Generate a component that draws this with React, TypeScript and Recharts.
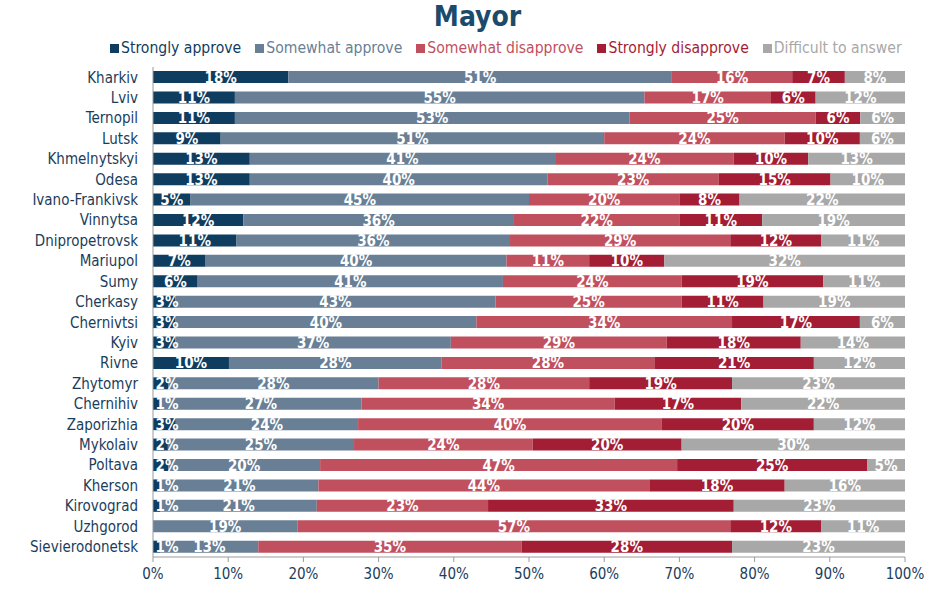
import { BarChart, Bar, XAxis, YAxis, LabelList } from 'recharts';

const FONT = '"DejaVu Sans Condensed", "DejaVu Sans", sans-serif';
const NAVY_TEXT = '#1b3d5c';

const cities = [
  'Kharkiv', 'Lviv', 'Ternopil', 'Lutsk', 'Khmelnytskyi', 'Odesa', 'Ivano-Frankivsk', 'Vinnytsa',
  'Dnipropetrovsk', 'Mariupol', 'Sumy', 'Cherkasy', 'Chernivtsi', 'Kyiv', 'Rivne', 'Zhytomyr',
  'Chernihiv', 'Zaporizhia', 'Mykolaiv', 'Poltava', 'Kherson', 'Kirovograd', 'Uzhgorod', 'Sievierodonetsk',
];

const stronglyApprove = [18, 11, 11, 9, 13, 13, 5, 12, 11, 7, 6, 3, 3, 3, 10, 2, 1, 3, 2, 2, 1, 1, 0, 1];
const somewhatApprove = [51, 55, 53, 51, 41, 40, 45, 36, 36, 40, 41, 43, 40, 37, 28, 28, 27, 24, 25, 20, 21, 21, 19, 13];
const somewhatDisapprove = [16, 17, 25, 24, 24, 23, 20, 22, 29, 11, 24, 25, 34, 29, 28, 28, 34, 40, 24, 47, 44, 23, 57, 35];
const stronglyDisapprove = [7, 6, 6, 10, 10, 15, 8, 11, 12, 10, 19, 11, 17, 18, 21, 19, 17, 20, 20, 25, 18, 33, 12, 28];
const difficult = [8, 12, 6, 6, 13, 10, 22, 19, 11, 32, 11, 19, 6, 14, 12, 23, 22, 12, 30, 5, 16, 23, 11, 23];

const xTicks = [0, 0.1, 0.2, 0.3, 0.4, 0.5, 0.6, 0.7, 0.8, 0.9, 1];

const series = [
  { key: 'sa', name: 'Strongly approve', color: '#0f3d5f' },
  { key: 'wa', name: 'Somewhat approve', color: '#687f96' },
  { key: 'wd', name: 'Somewhat disapprove', color: '#c1505f' },
  { key: 'sd', name: 'Strongly disapprove', color: '#a31d35' },
  { key: 'dk', name: 'Difficult to answer', color: '#a8a8a8' },
];

const data = cities.map((city, i) => ({
  city,
  sa: stronglyApprove[i],
  wa: somewhatApprove[i],
  wd: somewhatDisapprove[i],
  sd: stronglyDisapprove[i],
  dk: difficult[i],
}));

const SegmentLabel = (props: any) => {
  const { x, y, width, height, value } = props;
  if (!value) return null;
  // tiny segments: Excel pushes the label so it starts near the bar's left edge
  const cx = Math.max(x + width / 2, x + 14);
  return (
    <text
      x={cx}
      y={y + height / 2 + 1}
      fill="#ffffff"
      fontSize={15}
      fontWeight="bold"
      fontFamily={FONT}
      textAnchor="middle"
      dominantBaseline="middle"
    >
      {value}%
    </text>
  );
};

export default function App() {
  return (
    <div style={{ position: 'absolute', left: 0, top: 0, width: 950, height: 594, background: '#fff', fontFamily: FONT }}>
      <div
        style={{
          position: 'absolute', left: 0, top: 0, width: 955, textAlign: 'center',
          fontSize: 28, fontWeight: 'bold', color: '#1b4a6b', lineHeight: '33px',
        }}
      >
        Mayor
      </div>
      <div style={{ position: 'absolute', left: 110, top: 38, display: 'flex', gap: 14, fontSize: 15.6, lineHeight: '20px' }}>
        {series.map(s => (
          <div key={s.key} style={{ display: 'flex', alignItems: 'center', color: s.color }}>
            <span style={{ display: 'inline-block', width: 9, height: 9, background: s.color, marginRight: 2 }} />
            {s.name}
          </div>
        ))}
      </div>
      <BarChart
        width={950}
        height={594}
        data={data}
        layout="vertical"
        stackOffset="expand"
        barCategoryGap="20%"
        margin={{ top: 67, right: 45, bottom: 7, left: 8 }}
      >
        <XAxis
          type="number"
          domain={[0, 1]}
          ticks={xTicks}
          height={30}
          tickFormatter={(v: number) => `${Math.round(v * 100)}%`}
          tick={{ fill: NAVY_TEXT, fontSize: 15, fontFamily: FONT }}
          axisLine={{ stroke: '#9a9a9a' }}
          tickLine={{ stroke: '#9a9a9a' }}
          tickSize={5}
          tickMargin={6}
        />
        <YAxis
          type="category"
          dataKey="city"
          width={145}
          interval={0}
          tick={{ fill: NAVY_TEXT, fontSize: 15, fontFamily: FONT }}
          axisLine={{ stroke: '#9a9a9a' }}
          tickLine={false}
          tickMargin={9}
        />
        {series.map(s => (
          <Bar key={s.key} dataKey={s.key} name={s.name} stackId="a" fill={s.color} isAnimationActive={false}>
            <LabelList dataKey={s.key} content={<SegmentLabel />} />
          </Bar>
        ))}
      </BarChart>
    </div>
  );
}
